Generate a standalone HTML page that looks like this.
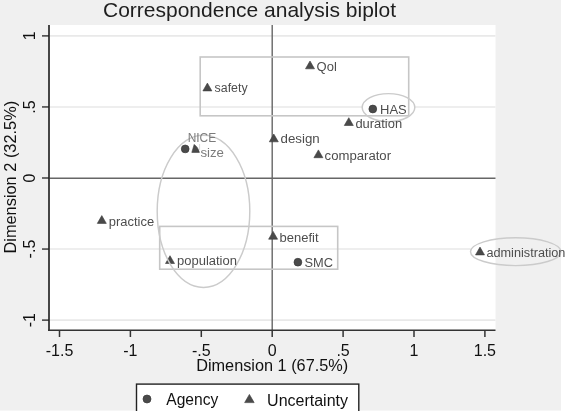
<!DOCTYPE html>
<html><head><meta charset="utf-8"><style>
html,body{margin:0;padding:0;background:#fff;width:567px;height:411px;overflow:hidden}
svg{display:block;font-family:"Liberation Sans",sans-serif;will-change:transform}
</style></head><body>
<svg width="567" height="411" viewBox="0 0 567 411">
<rect x="0" y="0" width="561" height="410" fill="#f0f0f0"/>
<rect x="0" y="410" width="561" height="1" fill="#f6f6f6"/>
<rect x="49" y="25" width="446.5" height="305" fill="#ffffff"/>
<line x1="50" x2="495.5" y1="320.10" y2="320.10" stroke="#e9e9e9" stroke-width="1.6"/>
<line x1="50" x2="470.5" y1="249.05" y2="249.05" stroke="#e9e9e9" stroke-width="1.6"/>
<line x1="50" x2="495.5" y1="106.95" y2="106.95" stroke="#e9e9e9" stroke-width="1.6"/>
<line x1="50" x2="495.5" y1="35.90" y2="35.90" stroke="#e9e9e9" stroke-width="1.6"/>
<ellipse cx="388.5" cy="107.6" rx="26.3" ry="14" fill="#ffffff"/>
<line x1="272.2" x2="272.2" y1="25" y2="330" stroke="#666" stroke-width="1.4"/>
<line x1="49" x2="495.5" y1="178.2" y2="178.2" stroke="#666" stroke-width="1.4"/>
<rect x="200.2" y="57" width="208.5" height="58.8" fill="none" stroke="#c6c6c6" stroke-width="1.6"/>
<rect x="159.7" y="226.4" width="178" height="42.8" fill="none" stroke="#c6c6c6" stroke-width="1.6"/>
<line x1="49" x2="49" y1="25" y2="331" stroke="#333" stroke-width="1.8"/>
<line x1="48" x2="495.5" y1="330.3" y2="330.3" stroke="#333" stroke-width="1.6"/>
<line x1="42" x2="49" y1="320.10" y2="320.10" stroke="#222" stroke-width="1.3"/>
<text x="35.3" y="320.10" transform="rotate(-90 35.3 320.10)" text-anchor="middle" font-size="16" fill="#111">-1</text>
<line x1="42" x2="49" y1="249.05" y2="249.05" stroke="#222" stroke-width="1.3"/>
<text x="35.3" y="249.05" transform="rotate(-90 35.3 249.05)" text-anchor="middle" font-size="16" fill="#111">-.5</text>
<line x1="42" x2="49" y1="178.00" y2="178.00" stroke="#222" stroke-width="1.3"/>
<text x="35.3" y="178.00" transform="rotate(-90 35.3 178.00)" text-anchor="middle" font-size="16" fill="#111">0</text>
<line x1="42" x2="49" y1="106.95" y2="106.95" stroke="#222" stroke-width="1.3"/>
<text x="35.3" y="106.95" transform="rotate(-90 35.3 106.95)" text-anchor="middle" font-size="16" fill="#111">.5</text>
<line x1="42" x2="49" y1="35.90" y2="35.90" stroke="#222" stroke-width="1.3"/>
<text x="35.3" y="35.90" transform="rotate(-90 35.3 35.90)" text-anchor="middle" font-size="16" fill="#111">1</text>
<line x1="59.50" x2="59.50" y1="330" y2="337" stroke="#333" stroke-width="1.5"/>
<text x="59.50" y="355.5" text-anchor="middle" font-size="16" fill="#111">-1.5</text>
<line x1="130.40" x2="130.40" y1="330" y2="337" stroke="#333" stroke-width="1.5"/>
<text x="130.40" y="355.5" text-anchor="middle" font-size="16" fill="#111">-1</text>
<line x1="201.30" x2="201.30" y1="330" y2="337" stroke="#333" stroke-width="1.5"/>
<text x="201.30" y="355.5" text-anchor="middle" font-size="16" fill="#111">-.5</text>
<line x1="272.20" x2="272.20" y1="330" y2="337" stroke="#333" stroke-width="1.5"/>
<text x="272.20" y="355.5" text-anchor="middle" font-size="16" fill="#111">0</text>
<line x1="343.10" x2="343.10" y1="330" y2="337" stroke="#333" stroke-width="1.5"/>
<text x="343.10" y="355.5" text-anchor="middle" font-size="16" fill="#111">.5</text>
<line x1="414.00" x2="414.00" y1="330" y2="337" stroke="#333" stroke-width="1.5"/>
<text x="414.00" y="355.5" text-anchor="middle" font-size="16" fill="#111">1</text>
<line x1="484.90" x2="484.90" y1="330" y2="337" stroke="#333" stroke-width="1.5"/>
<text x="484.90" y="355.5" text-anchor="middle" font-size="16" fill="#111">1.5</text>
<text x="249.5" y="16.8" text-anchor="middle" font-size="21" fill="#1e1e1e">Correspondence analysis biplot</text>
<text x="272.2" y="371.4" text-anchor="middle" font-size="16" fill="#111" textLength="152.09" lengthAdjust="spacingAndGlyphs">Dimension 1 (67.5%)</text>
<text x="16.4" y="177.2" transform="rotate(-90 16.4 177.2)" text-anchor="middle" font-size="16" fill="#111" textLength="152.69" lengthAdjust="spacingAndGlyphs">Dimension 2 (32.5%)</text>
<path d="M310.00 61.00L314.50 68.80L305.50 68.80Z" fill="#4a4a4a" stroke="#3a3a3a" stroke-width="0.6"/>
<path d="M207.40 83.10L211.90 90.90L202.90 90.90Z" fill="#4a4a4a" stroke="#3a3a3a" stroke-width="0.6"/>
<path d="M348.80 117.70L353.30 125.50L344.30 125.50Z" fill="#4a4a4a" stroke="#3a3a3a" stroke-width="0.6"/>
<path d="M273.80 134.00L278.30 141.80L269.30 141.80Z" fill="#4a4a4a" stroke="#3a3a3a" stroke-width="0.6"/>
<path d="M318.40 149.90L322.90 157.70L313.90 157.70Z" fill="#4a4a4a" stroke="#3a3a3a" stroke-width="0.6"/>
<path d="M101.80 215.60L106.30 223.40L97.30 223.40Z" fill="#4a4a4a" stroke="#3a3a3a" stroke-width="0.6"/>
<path d="M273.10 231.40L277.60 239.20L268.60 239.20Z" fill="#4a4a4a" stroke="#3a3a3a" stroke-width="0.6"/>
<path d="M170.00 255.70L174.50 263.50L165.50 263.50Z" fill="#4a4a4a" stroke="#3a3a3a" stroke-width="0.6"/>
<path d="M480.00 247.10L484.50 254.90L475.50 254.90Z" fill="#4a4a4a" stroke="#3a3a3a" stroke-width="0.6"/>
<path d="M194.2 144.4Q198.2 147.2 199.4 152.4L191.8 152.4Z" fill="#4a4a4a" stroke="#3a3a3a" stroke-width="0.6"/>
<line x1="199.6" x2="199.6" y1="144" y2="150" stroke="#dcdcdc" stroke-width="1"/>
<circle cx="372.8" cy="109.0" r="3.9" fill="#4a4a4a" stroke="#3a3a3a" stroke-width="0.7"/>
<circle cx="185.2" cy="148.9" r="3.9" fill="#4a4a4a" stroke="#3a3a3a" stroke-width="0.7"/>
<circle cx="297.9" cy="262.2" r="3.9" fill="#4a4a4a" stroke="#3a3a3a" stroke-width="0.7"/>
<ellipse cx="203.5" cy="211.35" rx="46.3" ry="76.05" fill="none" stroke="#cbcbcb" stroke-width="1.45"/>
<ellipse cx="388.5" cy="107.6" rx="26.3" ry="14" fill="none" stroke="#cbcbcb" stroke-width="1.45"/>
<ellipse cx="515.7" cy="251.7" rx="45.2" ry="13.9" fill="none" stroke="#cbcbcb" stroke-width="1.45"/>
<text x="316.6" y="70.9" font-size="12.5" fill="#4d4d4d" textLength="20.23" lengthAdjust="spacingAndGlyphs">Qol</text>
<text x="214.6" y="92.3" font-size="12.5" fill="#4d4d4d" textLength="33.02" lengthAdjust="spacingAndGlyphs">safety</text>
<text x="380.1" y="113.6" font-size="12.5" fill="#4d4d4d" textLength="26.65" lengthAdjust="spacingAndGlyphs">HAS</text>
<text x="355.4" y="128.0" font-size="12.5" fill="#4d4d4d" textLength="46.71" lengthAdjust="spacingAndGlyphs">duration</text>
<text x="280.5" y="143.3" font-size="12.5" fill="#4d4d4d" textLength="39.23" lengthAdjust="spacingAndGlyphs">design</text>
<text x="324.6" y="160.0" font-size="12.5" fill="#4d4d4d" textLength="66.44" lengthAdjust="spacingAndGlyphs">comparator</text>
<text x="187.7" y="141.7" font-size="12.5" fill="#7b7b7b" textLength="28.52" lengthAdjust="spacingAndGlyphs">NICE</text>
<text x="200.4" y="156.7" font-size="12.5" fill="#7b7b7b" textLength="23.56" lengthAdjust="spacingAndGlyphs">size</text>
<text x="108.8" y="225.5" font-size="12.5" fill="#4d4d4d" textLength="45.30" lengthAdjust="spacingAndGlyphs">practice</text>
<text x="279.6" y="242.0" font-size="12.5" fill="#4d4d4d" textLength="38.96" lengthAdjust="spacingAndGlyphs">benefit</text>
<text x="177.0" y="264.9" font-size="12.5" fill="#4d4d4d" textLength="59.94" lengthAdjust="spacingAndGlyphs">population</text>
<text x="304.4" y="267.0" font-size="12.5" fill="#4d4d4d" textLength="28.50" lengthAdjust="spacingAndGlyphs">SMC</text>
<text x="486.4" y="256.9" font-size="12.5" fill="#4d4d4d" textLength="79.06" lengthAdjust="spacingAndGlyphs">administration</text>
<rect x="136.5" y="384.1" width="222.3" height="40" fill="#ffffff" stroke="#222" stroke-width="1.4"/>
<circle cx="147.0" cy="399.0" r="4.0" fill="#4a4a4a" stroke="#3a3a3a" stroke-width="0.7"/>
<path d="M249.40 394.39L254.15 402.61L244.65 402.61Z" fill="#4a4a4a" stroke="#3a3a3a" stroke-width="0.6"/>
<text x="166.3" y="405.4" font-size="16" fill="#111" textLength="52.03" lengthAdjust="spacingAndGlyphs">Agency</text>
<text x="267.1" y="405.5" font-size="16" fill="#111">Uncertainty</text>
</svg>
</body></html>
